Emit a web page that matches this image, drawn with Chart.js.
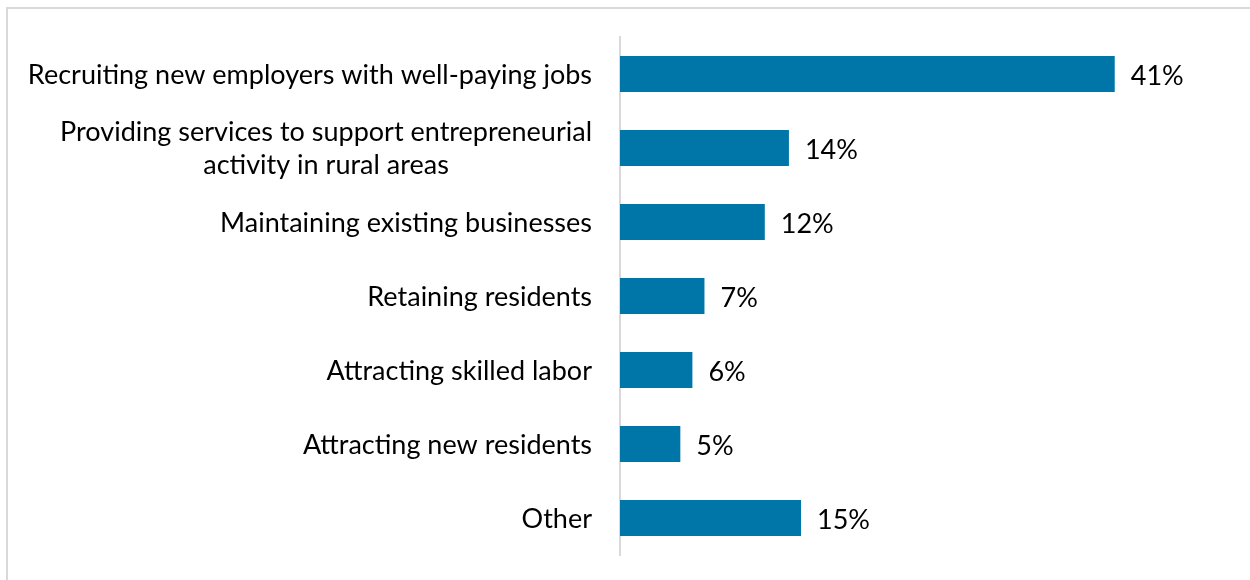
<!DOCTYPE html>
<html>
<head>
<meta charset="utf-8">
<script src="https://cdn.jsdelivr.net/npm/chart.js@4"></script>
<style>
  html, body { margin: 0; padding: 0; background: #fff; }
  #wrap { position: relative; width: 1250px; height: 580px; }
  #frame { position: absolute; left: 6px; top: 7px; width: 1300px; height: 700px;
           border-left: 2px solid #d9d9d9; border-top: 2px solid #d9d9d9; box-sizing: border-box; }
  canvas { position: absolute; left: 0; top: 0; }
</style>
</head>
<body>
<div id="wrap">
  <div id="frame"></div>
  <canvas id="c" width="1250" height="580"></canvas>
</div>
<script>
// Survey responses: top priority for rural economic development
const categories = [
  ["Recruiting new employers with well-paying jobs"],
  ["Providing services to support entrepreneurial", "activity in rural areas"],
  ["Maintaining existing businesses"],
  ["Retaining residents"],
  ["Attracting skilled labor"],
  ["Attracting new residents"],
  ["Other"]
];
const shares = [41, 14, 12, 7, 6, 5, 15];
const valueLabels = ["41%", "14%", "12%", "7%", "6%", "5%", "15%"];

const FONT = '"Lato", "Open Sans", sans-serif';
const FONT_SIZE = 27;
const LINE_H = 33;

// Category labels: right-aligned block, multi-line labels centred within their block
const categoryLabels = {
  id: 'categoryLabels',
  afterDraw(chart) {
    const ctx = chart.ctx;
    const y = chart.scales.y;
    const right = chart.chartArea.left - 28;
    ctx.save();
    ctx.font = FONT_SIZE + 'px ' + FONT;
    ctx.fillStyle = '#000';
    ctx.textBaseline = 'middle';
    categories.forEach((lines, i) => {
      const cy = y.getPixelForValue(i) + 1;
      const widths = lines.map(l => ctx.measureText(l).width);
      const blockW = Math.max(...widths);
      const cx = right - blockW / 2;
      ctx.textAlign = 'center';
      lines.forEach((l, j) => {
        const ly = cy + (j - (lines.length - 1) / 2) * LINE_H;
        ctx.fillText(l, cx, ly);
      });
    });
    ctx.restore();
  }
};

// Percentage labels at the end of each bar
const valueLabelPlugin = {
  id: 'valueLabelPlugin',
  afterDatasetsDraw(chart) {
    const ctx = chart.ctx;
    const meta = chart.getDatasetMeta(0);
    ctx.save();
    ctx.font = FONT_SIZE + 'px ' + FONT;
    ctx.fillStyle = '#000';
    ctx.textAlign = 'left';
    ctx.textBaseline = 'middle';
    meta.data.forEach((bar, i) => {
      ctx.fillText(valueLabels[i], bar.x + 16, bar.y + 2);
    });
    ctx.restore();
  }
};

new Chart(document.getElementById('c'), {
  type: 'bar',
  data: {
    labels: categories.map(c => c.join(' ')),
    datasets: [{
      data: shares,
      backgroundColor: '#0076A8',
      borderWidth: 0,
      categoryPercentage: 1,
      barPercentage: 0.486
    }]
  },
  options: {
    indexAxis: 'y',
    responsive: false,
    animation: false,
    layout: { padding: { left: 620, top: 37, bottom: 25, right: 87 } },
    plugins: { legend: { display: false }, tooltip: { enabled: false } },
    scales: {
      x: { display: false, min: 0, max: 45 },
      y: {
        grid: { display: false, drawTicks: false },
        border: { display: true, color: '#d9d9d9', width: 2 },
        ticks: { display: false }
      }
    }
  },
  plugins: [categoryLabels, valueLabelPlugin]
});
</script>
</body>
</html>
